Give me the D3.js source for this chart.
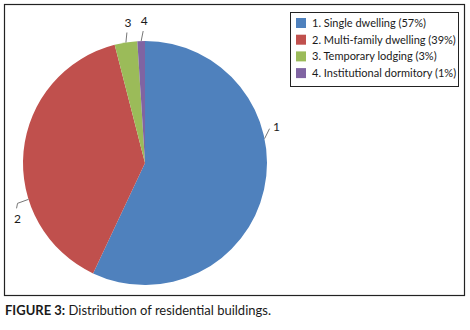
<!DOCTYPE html>
<html>
<head>
<meta charset="utf-8">
<script src="https://cdn.jsdelivr.net/npm/d3@7"></script>
<style>
  body { margin: 0; background: #fff; }
  text { font-family: Lato, "Open Sans", sans-serif; fill: #1a1a1a; }
</style>
</head>
<body>
<div id="chart"></div>
<script>
// data
let categories = ["Single dwelling", "Multi-family dwelling", "Temporary lodging", "Institutional dormitory"];
let shares = [57, 39, 3, 1];
let colours = ["#4F81BD", "#C0504D", "#9BBB59", "#8064A2"];

let width = 470;
let height = 330;

let svg = d3.select("#chart")
  .append("svg")
  .attr("width", width).attr("height", height);

// outer frame
svg.append("rect")
  .attr("x", 4.5).attr("y", 4.5)
  .attr("width", 460).attr("height", 291)
  .attr("fill", "none")
  .attr("stroke", "#222")
  .attr("stroke-width", 1.2);

let cx = 145, cy = 163, radius = 122;

let pie = d3.pie().sort(null).value(function(d) { return d; });
let arc = d3.arc().innerRadius(0).outerRadius(radius);
let arcs = pie(shares);

let g = svg.append("g")
  .attr("transform", "translate(" + cx + "," + cy + ")");

g.selectAll("path")
  .data(arcs)
  .enter()
  .append("path")
  .attr("d", arc)
  .attr("fill", function(d, i) { return colours[i]; });

// leader lines + numbered labels (offsets relative to slice edge)
let leaders = [
  { pts: [[0, 0], [5, -10]], text: [12, -12] },
  { pts: [[0, 0], [-11, 4], [-12, 9]], text: [-11, 19] },
  { pts: [[0, 0], [1, -10]], text: [2, -20] },
  { pts: [[0, 0], [2, -10]], text: [3, -20] }
];
let labelAngle = [1.37, 4.41, null, null];

arcs.forEach(function(d, i) {
  let a = labelAngle[i] != null ? labelAngle[i] : (d.startAngle + d.endAngle) / 2;
  let x0 = Math.sin(a) * radius;
  let y0 = -Math.cos(a) * radius;
  let L = leaders[i];
  let line = d3.line();
  g.append("path")
    .attr("d", line(L.pts.map(function(p) { return [x0 + p[0], y0 + p[1]]; })))
    .attr("fill", "none")
    .attr("stroke", "#777")
    .attr("stroke-width", 1);
  g.append("text")
    .attr("x", x0 + L.text[0])
    .attr("y", y0 + L.text[1])
    .attr("text-anchor", "middle")
    .attr("dy", "0.35em")
    .attr("font-size", 12)
    .text(i + 1);
});

// legend
let legend = svg.append("g");
legend.append("rect")
  .attr("x", 290.5).attr("y", 12.5)
  .attr("width", 168).attr("height", 74)
  .attr("fill", "none")
  .attr("stroke", "#222")
  .attr("stroke-width", 1);

let rows = legend.selectAll("g.row")
  .data(categories)
  .enter()
  .append("g")
  .attr("transform", function(d, i) { return "translate(296," + (23 + i * 16.7) + ")"; });

rows.append("rect")
  .attr("x", 0).attr("y", -5)
  .attr("width", 10).attr("height", 10)
  .attr("fill", function(d, i) { return colours[i]; });

rows.append("text")
  .attr("x", 16)
  .attr("dy", "0.35em")
  .attr("font-size", 11)
  .text(function(d, i) { return (i + 1) + ". " + d + " (" + shares[i] + "%)"; });

// caption
let caption = svg.append("text")
  .attr("x", 5).attr("y", 315)
  .attr("font-size", 13);
caption.append("tspan").attr("font-weight", "bold").text("FIGURE 3:");
caption.append("tspan").text(" Distribution of residential buildings.");
</script>
</body>
</html>
